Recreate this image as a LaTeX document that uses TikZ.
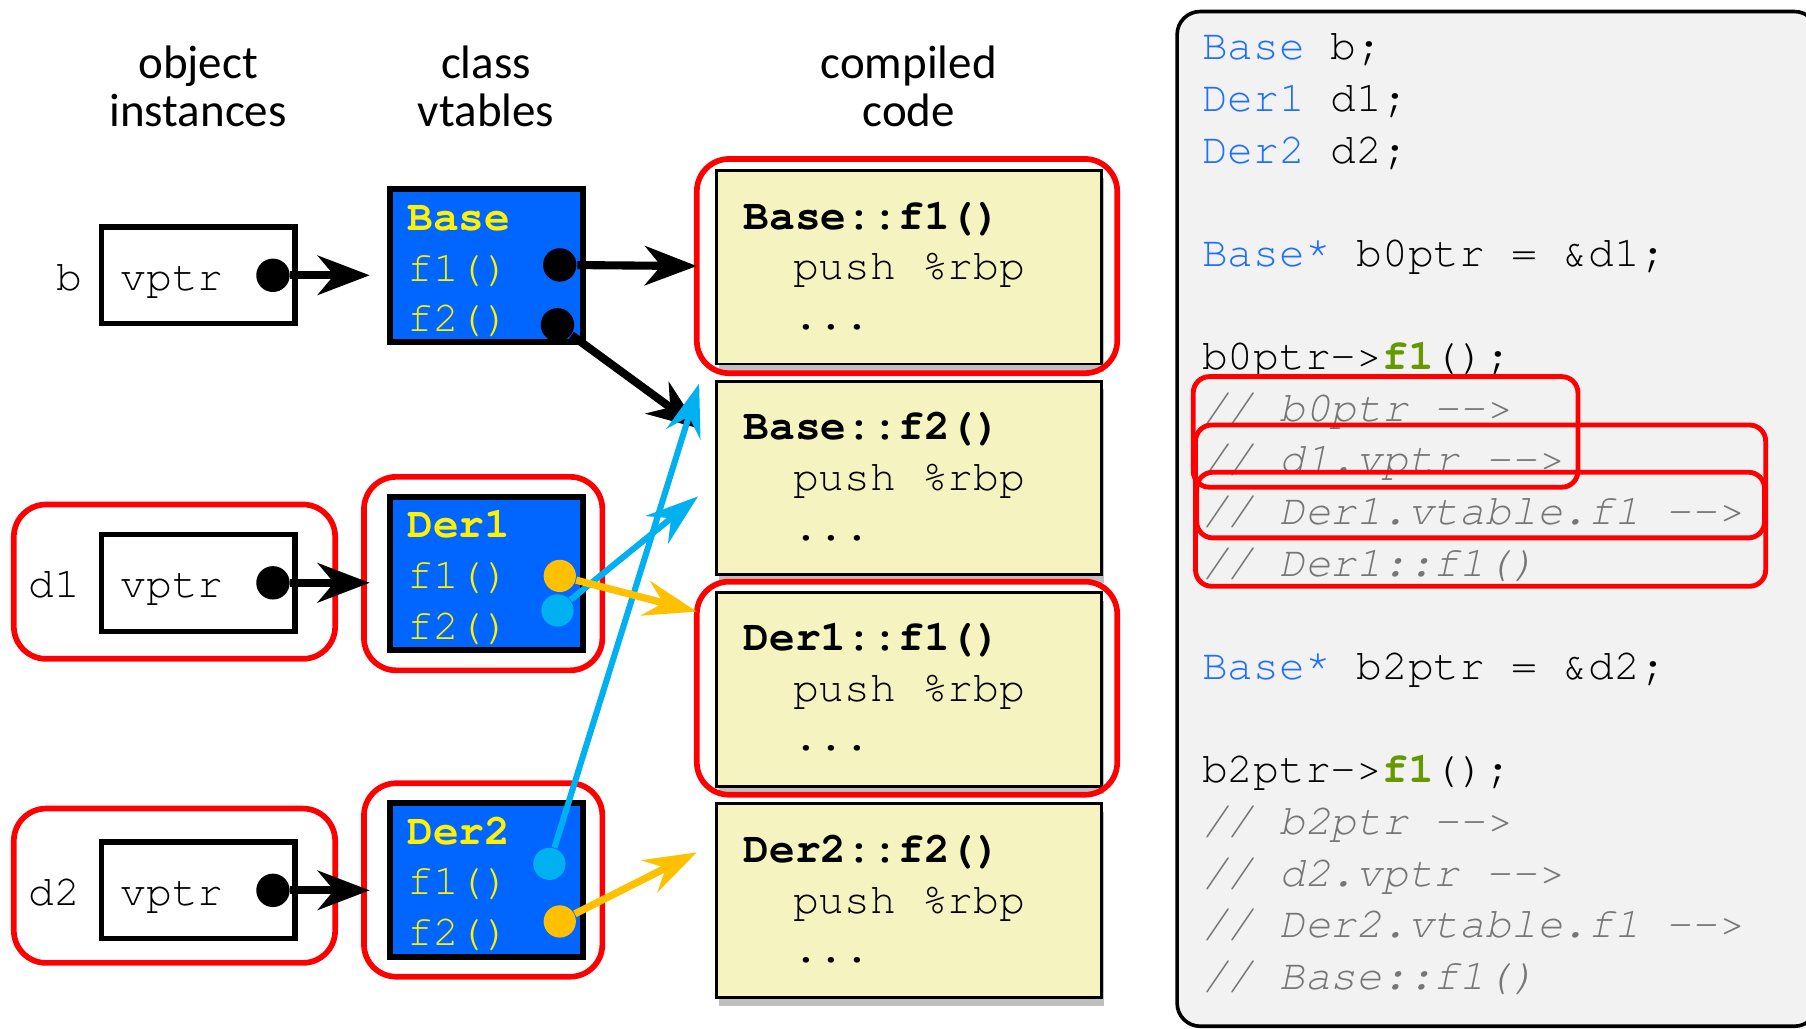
\documentclass[tikz,border=0pt]{standalone}
\usepackage{fontspec}
\setmonofont{texgyrecursor}[Extension=.otf, UprightFont=*-regular, BoldFont=*-bold, ItalicFont=*-italic, BoldItalicFont=*-bolditalic]
\newfontfamily\headfont{Carlito}
\usepackage{tikz}
\usetikzlibrary{arrows.meta, shadows}

\definecolor{vtblue}{RGB}{0,102,255}
\definecolor{kwblue}{RGB}{30,110,255}
\definecolor{codeyellow}{RGB}{245,243,192}
\definecolor{shadowgray}{RGB}{191,191,191}
\definecolor{ptrorange}{RGB}{255,192,0}
\definecolor{ptrcyan}{RGB}{0,176,240}
\definecolor{cmtgray}{RGB}{118,118,118}
\definecolor{fngreen}{RGB}{102,153,0}
\definecolor{panelgray}{RGB}{242,242,242}

\begin{document}
\begin{tikzpicture}[x=0.01cm, y=-0.01cm]
		\tikzstyle{head} = [align=center, font=\headfont\fontsize{11.6}{12}\selectfont]
		\tikzstyle{mono} = [anchor=base west, inner sep=0, font=\ttfamily\fontsize{10.6}{12.5}\selectfont]
		\tikzstyle{ptrbox} = [draw, line width=1.3pt, minimum width=1.68cm, minimum height=0.84cm, inner sep=0]
		\tikzstyle{vtbox} = [draw, line width=1.5pt, fill=vtblue, minimum width=1.67cm, minimum height=1.33cm, inner sep=0]
		\tikzstyle{vttxt} = [mono, text=yellow]
		\tikzstyle{codebox} = [draw, line width=0.7pt, fill=codeyellow, minimum width=3.34cm, minimum height=1.68cm, inner sep=0, drop shadow={shadow xshift=0.02cm, shadow yshift=-0.07cm, fill=shadowgray, opacity=1}]
		\tikzstyle{redbox} = [draw=red, line width=1.4pt, rounded corners=0.28cm]
		\tikzstyle{hilite} = [draw=red, line width=1.2pt, rounded corners=0.14cm]
		\tikzstyle{blackdot} = [circle, fill=black, minimum size=0.29cm, inner sep=0]
		\tikzstyle{orangedot} = [circle, fill=ptrorange, minimum size=0.28cm, inner sep=0]
		\tikzstyle{cyandot} = [circle, fill=ptrcyan, minimum size=0.28cm, inner sep=0]
		\tikzstyle{ptr} = [-{Stealth[length=0.45cm, width=0.34cm, inset=0.14cm]}, line width=2pt]
		\tikzstyle{cptr} = [-{Stealth[length=0.46cm, width=0.31cm, inset=0.16cm]}, line width=1.8pt]
		\tikzstyle{codeline} = [mono]
		\tikzstyle{comment} = [mono, text=cmtgray, font=\ttfamily\itshape\fontsize{10.6}{12.5}\selectfont]
		\useasboundingbox (0,0) rectangle (1568,893);
		% source panel
		\draw [fill=panelgray, line width=0.9pt, rounded corners=0.2cm] (1022,10) rectangle (1578,891);
		\node [codeline] (s1) at (1043,52) {\textcolor{kwblue}{Base} b;};
		\node [codeline] (s2) at (1043,96.8) {\textcolor{kwblue}{Der1} d1;};
		\node [codeline] (s3) at (1043,141.7) {\textcolor{kwblue}{Der2} d2;};
		\node [codeline] (s4) at (1043,231.3) {\textcolor{kwblue}{Base*} b0ptr = \&d1;};
		\node [codeline] (s5) at (1043,321) {b0ptr->\textcolor{fngreen}{\textbf{f1}}();};
		\node [comment] (s6) at (1043,365.8) {// b0ptr -\kern0pt->};
		\node [comment] (s7) at (1043,410.6) {// d1.vptr -\kern0pt->};
		\node [comment] (s8) at (1043,455.5) {// Der1.vtable.f1 -\kern0pt->};
		\node [comment] (s9) at (1043,500.3) {// Der1::f1()};
		\node [codeline] (s10) at (1043,590) {\textcolor{kwblue}{Base*} b2ptr = \&d2;};
		\node [codeline] (s11) at (1043,679.6) {b2ptr->\textcolor{fngreen}{\textbf{f1}}();};
		\node [comment] (s12) at (1043,724.5) {// b2ptr -\kern0pt->};
		\node [comment] (s13) at (1043,769.3) {// d2.vptr -\kern0pt->};
		\node [comment] (s14) at (1043,814.1) {// Der2.vtable.f1 -\kern0pt->};
		\node [comment] (s15) at (1043,859) {// Base::f1()};
		\draw [hilite] (1036,327) rectangle (1370,423);
		\draw [hilite] (1038,369) rectangle (1533,509);
		\draw [hilite] (1039,410) rectangle (1532,467);
		% headings
		\node [head] (h_obj) at (172,75) {object\\instances};
		\node [head] (h_vt) at (422,75) {class\\vtables};
		\node [head] (h_code) at (789,75) {compiled\\code};
		% compiled code
		\node [codebox] (c1) at (789,232) {};
		\node [mono] (c1_a) at (645,199) {\textbf{Base::f1()}};
		\node [mono] (c1_b) at (688,243) {push \%rbp};
		\node [mono] (c1_c) at (688,286) {...};
		\node [codebox] (c2) at (789,415) {};
		\node [mono] (c2_a) at (645,382) {\textbf{Base::f2()}};
		\node [mono] (c2_b) at (688,426) {push \%rbp};
		\node [mono] (c2_c) at (688,469) {...};
		\node [codebox] (c3) at (789,598.5) {};
		\node [mono] (c3_a) at (645,565) {\textbf{Der1::f1()}};
		\node [mono] (c3_b) at (688,609) {push \%rbp};
		\node [mono] (c3_c) at (688,652) {...};
		\node [codebox] (c4) at (789,782) {};
		\node [mono] (c4_a) at (645,749) {\textbf{Der2::f2()}};
		\node [mono] (c4_b) at (688,793) {push \%rbp};
		\node [mono] (c4_c) at (688,836) {...};
		% red outlines
		\draw [redbox] (605,138) rectangle (970,324);
		\draw [redbox] (605,505) rectangle (970,690);
		\draw [redbox] (12,438) rectangle (291,572);
		\draw [redbox] (12,702) rectangle (291,836);
		\draw [redbox] (316,414) rectangle (523,582);
		\draw [redbox] (316,680) rectangle (523,848);
		% objects
		\node [mono, anchor=base] (l_b) at (60,252) {b};
		\node [ptrbox] (vb) at (172,239) {};
		\node [mono] (vb_t) at (104,252) {vptr};
		\node [blackdot] (vb_d) at (237,239) {};
		\node [mono, anchor=base] (l_d1) at (47,519) {d1};
		\node [ptrbox] (vd1) at (172,506) {};
		\node [mono] (vd1_t) at (104,519) {vptr};
		\node [blackdot] (vd1_d) at (237,506) {};
		\node [mono, anchor=base] (l_d2) at (47,786) {d2};
		\node [ptrbox] (vd2) at (172,773) {};
		\node [mono] (vd2_t) at (104,786) {vptr};
		\node [blackdot] (vd2_d) at (237,773) {};
		% vtables
		\node [vtbox] (vt0) at (422.5,230.5) {};
		\node [vttxt] (vt0_n) at (353,200) {\textbf{Base}};
		\node [vttxt] (vt0_a) at (353,244) {f1()};
		\node [vttxt] (vt0_b) at (353,288) {f2()};
		\node [blackdot] (vt0_f1) at (486,230) {};
		\node [blackdot] (vt0_f2) at (484,282) {};
		\node [vtbox] (vt1) at (422.5,498) {};
		\node [vttxt] (vt1_n) at (353,467) {\textbf{Der1}};
		\node [vttxt] (vt1_a) at (353,511) {f1()};
		\node [vttxt] (vt1_b) at (353,555) {f2()};
		\node [cyandot] (vt1_f2) at (484,530) {};
		\node [orangedot] (vt1_f1) at (486,500) {};
		\node [vtbox] (vt2) at (422.5,764) {};
		\node [vttxt] (vt2_n) at (353,733) {\textbf{Der2}};
		\node [vttxt] (vt2_a) at (353,777) {f1()};
		\node [vttxt] (vt2_b) at (353,821) {f2()};
		\node [cyandot] (vt2_f1) at (477,750) {};
		\node [orangedot] (vt2_f2) at (486,800) {};
		% arrow ends
		\coordinate (vt0_in) at (321,239);
		\coordinate (vt1_in) at (321,506);
		\coordinate (vt2_in) at (321,773);
		\coordinate (c1_in) at (605,231);
		\coordinate (c2_in) at (607,372);
		\coordinate (c2_top) at (607,333);
		\coordinate (c2_mid) at (606,431);
		\coordinate (c3_in) at (605,531);
		\coordinate (c4_in) at (605,740);
		\draw [ptr] (vb_d) -- (vt0_in);
		\draw [ptr] (vd1_d) -- (vt1_in);
		\draw [ptr] (vd2_d) -- (vt2_in);
		\draw [ptr] (vt0_f1) -- (c1_in);
		\draw [ptr] (vt0_f2) -- (c2_in);
		\draw [cptr, line width=1.5pt, ptrcyan] (vt2_f1) -- (c2_top);
		\draw [cptr, line width=1.5pt, ptrcyan] (vt1_f2) -- (c2_mid);
		\draw [cptr, ptrorange] (vt1_f1) -- (c3_in);
		\draw [cptr, ptrorange] (vt2_f2) -- (c4_in);
\end{tikzpicture}
\end{document}
